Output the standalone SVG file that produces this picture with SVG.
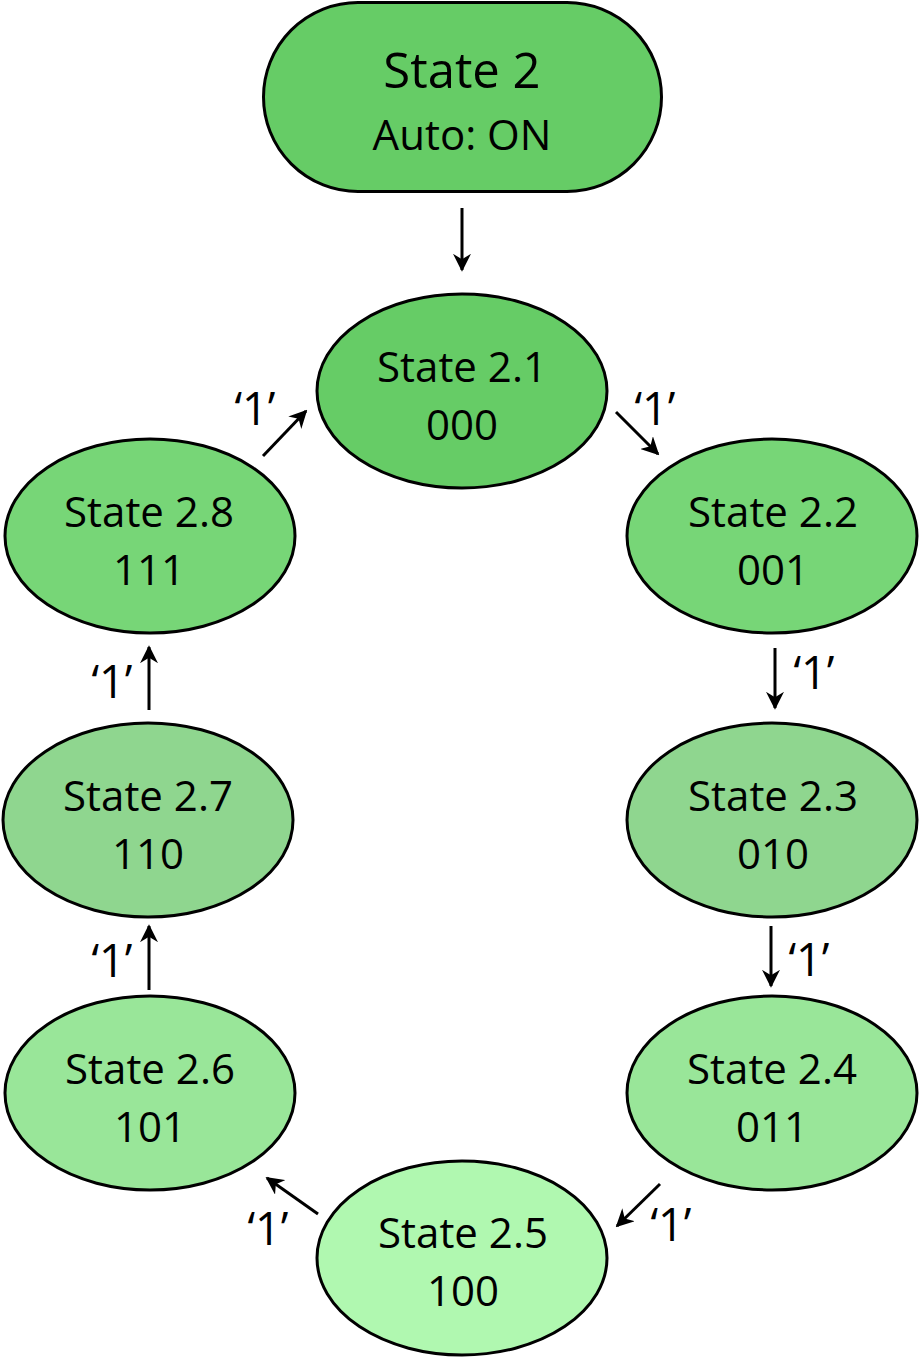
<svg xmlns="http://www.w3.org/2000/svg" width="920" height="1360" viewBox="0 0 920 1360">
<defs>
<marker id="ah" viewBox="0 0 10 10" refX="9" refY="5" markerWidth="6" markerHeight="6" orient="auto" markerUnits="strokeWidth">
<path d="M0,0 L10,5 L0,10 L3,5 z" fill="#000"/>
</marker>
<style>
.n{stroke:#000;stroke-width:3}
.t{font-family:"Open Sans","Noto Sans",sans-serif;font-size:42px;fill:#000;text-anchor:middle}
.c{stroke:#000;stroke-width:3;fill:none;marker-end:url(#ah)}
.l{font-family:"Open Sans","Noto Sans",sans-serif;font-size:45px;fill:#000;text-anchor:middle}
</style>
</defs>
<rect width="920" height="1360" fill="#fff"/>
<g id="state2">
<rect class="n" x="263.5" y="2.5" width="398" height="189" rx="94.5" fill="#66cc66"/>
<text class="t" x="462" y="88" style="font-size:49px">State 2</text>
<text class="t" x="462" y="150">Auto: ON</text>
</g>
<g id="s21"><ellipse class="n" cx="462" cy="391" rx="145" ry="97" fill="#66cc66"/><text class="t" x="462" y="382">State 2.1</text><text class="t" x="462" y="440">000</text></g>
<g id="s22"><ellipse class="n" cx="772" cy="536" rx="145" ry="97" fill="#77d677"/><text class="t" x="773" y="527">State 2.2</text><text class="t" x="773" y="585">001</text></g>
<g id="s23"><ellipse class="n" cx="772" cy="820" rx="145" ry="97" fill="#8fd68f"/><text class="t" x="773" y="811">State 2.3</text><text class="t" x="773" y="869">010</text></g>
<g id="s24"><ellipse class="n" cx="772" cy="1093" rx="145" ry="97" fill="#99e699"/><text class="t" x="772" y="1084">State 2.4</text><text class="t" x="772" y="1142">011</text></g>
<g id="s25"><ellipse class="n" cx="462" cy="1258" rx="145" ry="97" fill="#b0f8b0"/><text class="t" x="463" y="1248">State 2.5</text><text class="t" x="463" y="1306">100</text></g>
<g id="s26"><ellipse class="n" cx="150" cy="1093" rx="145" ry="97" fill="#99e699"/><text class="t" x="150" y="1084">State 2.6</text><text class="t" x="150" y="1142">101</text></g>
<g id="s27"><ellipse class="n" cx="148" cy="820" rx="145" ry="97" fill="#8fd68f"/><text class="t" x="148" y="811">State 2.7</text><text class="t" x="148" y="869">110</text></g>
<g id="s28"><ellipse class="n" cx="150" cy="536" rx="145" ry="97" fill="#77d677"/><text class="t" x="149" y="527">State 2.8</text><text class="t" x="149" y="585">111</text></g>
<g id="connectors">
<line class="c" x1="462" y1="208" x2="462" y2="270"/>
<line class="c" x1="616" y1="412" x2="658" y2="454"/>
<line class="c" x1="775" y1="648" x2="775" y2="708"/>
<line class="c" x1="771" y1="926" x2="771" y2="986"/>
<line class="c" x1="660" y1="1184" x2="617" y2="1226"/>
<line class="c" x1="318" y1="1214" x2="267" y2="1178"/>
<line class="c" x1="149" y1="990" x2="149" y2="926"/>
<line class="c" x1="149" y1="710" x2="149" y2="647"/>
<line class="c" x1="263" y1="456" x2="306" y2="411"/>
<text class="l" x="655" y="425">‘1’</text>
<text class="l" x="814" y="689">‘1’</text>
<text class="l" x="809" y="976">‘1’</text>
<text class="l" x="671" y="1241">‘1’</text>
<text class="l" x="268" y="1245">‘1’</text>
<text class="l" x="112" y="977">‘1’</text>
<text class="l" x="112" y="698">‘1’</text>
<text class="l" x="255" y="425">‘1’</text>
</g>
</svg>
